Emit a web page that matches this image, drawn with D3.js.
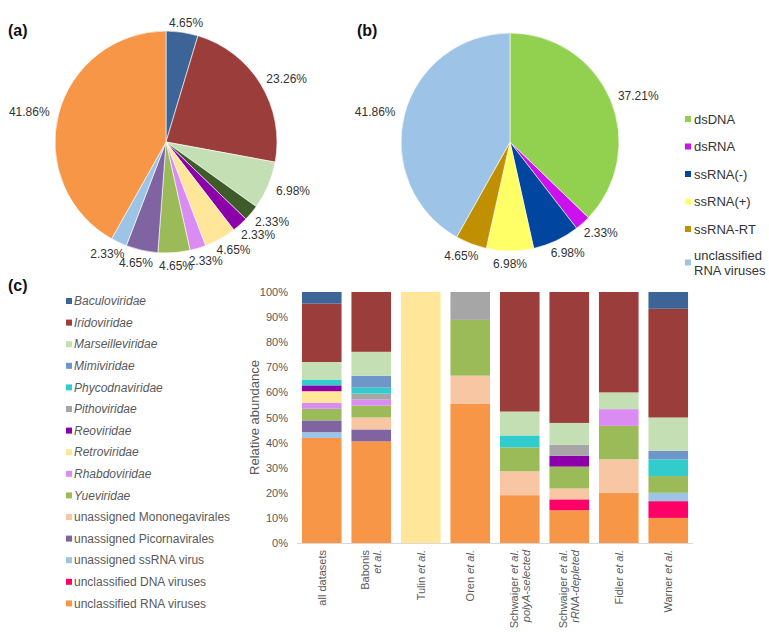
<!DOCTYPE html>
<html>
<head>
<meta charset="utf-8">
<script src="https://cdn.jsdelivr.net/npm/d3@7"></script>
<style>
  body { margin: 0; background: #fff; }
  text { font-family: "Liberation Sans", Arial, sans-serif; }
</style>
</head>
<body>
<div id="app"></div>
<script>
// (a) 科级分类饼图
const pieALabels = ["Baculoviridae", "Iridoviridae", "Marseilleviridae", "Phycodnaviridae", "Reoviridae",
  "Retroviridae", "Rhabdoviridae", "Yueviridae", "unassigned Picornavirales", "unassigned ssRNA virus",
  "unclassified RNA viruses"];
const pieAValues = [4.65, 23.26, 6.98, 2.33, 2.33, 4.65, 2.33, 4.65, 4.65, 2.33, 41.86];
const pieAColors = ["#3c6496", "#9b3d3b", "#c5dfb5", "#3d5c2a", "#8b00a8", "#ffe699", "#da8cf2",
  "#9bbb59", "#8064a2", "#9dc3e6", "#f79646"];

// (b) 基因组类型饼图
const pieBLabels = ["dsDNA", "dsRNA", "ssRNA(-)", "ssRNA(+)", "ssRNA-RT", "unclassified RNA viruses"];
const pieBValues = [37.21, 2.33, 6.98, 6.98, 4.65, 41.86];
const pieBColors = ["#92d050", "#cc11ee", "#0046a0", "#ffff66", "#c09000", "#9dc3e6"];

// (c) 堆叠柱状图
const datasets = ["all datasets", "Babonis et al.", "Tulin et al.", "Oren et al.",
  "Schwaiger et al. polyA-selected", "Schwaiger et al. rRNA-depleted", "Fidler et al.", "Warner et al."];
const families = ["Baculoviridae", "Iridoviridae", "Marseilleviridae", "Mimiviridae", "Phycodnaviridae",
  "Pithoviridae", "Reoviridae", "Retroviridae", "Rhabdoviridae", "Yueviridae",
  "unassigned Mononegavirales", "unassigned Picornavirales", "unassigned ssRNA virus",
  "unclassified DNA viruses", "unclassified RNA viruses"];
const familyColors = ["#3c6496", "#9b3d3b", "#c5dfb5", "#6f96c8", "#33cccc", "#a6a6a6", "#8b00a8",
  "#ffe699", "#da8cf2", "#9bbb59", "#f9c6a4", "#8064a2", "#9dc3e6", "#ff0066", "#f79646"];
const italicCount = 10; // 前 10 个是科名，斜体

// 每个数据集的相对丰度 (%)，顺序同 families
const allDatasets = [4.65, 23.26, 6.98, 0, 2.33, 0, 2.33, 4.65, 2.33, 4.65, 0, 4.65, 2.33, 0, 41.86];
const babonis     = [0, 23.81, 9.52, 4.76, 2.38, 2.38, 0, 0, 2.38, 4.76, 4.76, 4.76, 0, 0, 40.48];
const tulin       = [0, 0, 0, 0, 0, 0, 0, 100, 0, 0, 0, 0, 0, 0, 0];
const oren        = [0, 0, 0, 0, 0, 11.11, 0, 0, 0, 22.22, 11.11, 0, 0, 0, 55.56];
const schwaigerA  = [0, 47.62, 9.52, 0, 4.76, 0, 0, 0, 0, 9.52, 9.52, 0, 0, 0, 19.05];
const schwaigerR  = [0, 52.17, 8.7, 0, 0, 4.35, 4.35, 0, 0, 8.7, 4.35, 0, 0, 4.35, 13.04];
const fidler      = [0, 40, 6.67, 0, 0, 0, 0, 0, 6.67, 13.33, 13.33, 0, 0, 0, 20];
const warner      = [6.67, 43.33, 13.33, 3.33, 6.67, 0, 0, 0, 0, 6.67, 0, 0, 3.33, 6.67, 10];
const barValues = [allDatasets, babonis, tulin, oren, schwaigerA, schwaigerR, fidler, warner];

const yTicks = [0, 10, 20, 30, 40, 50, 60, 70, 80, 90, 100];

const width = 769, height = 632;
const textGray = "#595959";

const svg = d3.select("#app").append("svg")
  .attr("width", width)
  .attr("height", height);

// 面板标题
[["(a)", 8, 36], ["(b)", 357, 36], ["(c)", 8, 291]].forEach(([t, x, y]) => {
  svg.append("text").attr("x", x).attr("y", y).text(t)
    .style("font-size", "16px").style("font-weight", "bold").style("fill", "#111");
});

// 饼图绘制函数
function drawPie(cx, cy, r, values, colors) {
  const pie = d3.pie().sort(null).value(d => d);
  const arcs = pie(values);
  const arc = d3.arc().innerRadius(0).outerRadius(r);
  const labelArc = d3.arc().innerRadius(r + 10).outerRadius(r + 10);
  const g = svg.append("g").attr("transform", `translate(${cx},${cy})`);

  g.selectAll("path")
    .data(arcs)
    .enter().append("path")
    .attr("d", arc)
    .attr("fill", (d, i) => colors[i])
    .attr("stroke", "#fff")
    .attr("stroke-width", 0.6);

  g.selectAll("text")
    .data(arcs)
    .enter().append("text")
    .attr("text-anchor", "middle")
    .attr("dy", "0.35em")
    .style("font-size", "12px")
    .style("fill", "#333")
    .text(d => d.value.toFixed(2) + "%")
    .attr("x", function(d) {
      const c = labelArc.centroid(d);
      const a = (d.startAngle + d.endAngle) / 2;
      return c[0] + Math.sin(a) * this.getComputedTextLength() / 2;
    })
    .attr("y", d => {
      const a = (d.startAngle + d.endAngle) / 2;
      return labelArc.centroid(d)[1] + Math.max(0, -Math.cos(a)) * 3;
    });
}

drawPie(166, 142, 111, pieAValues, pieAColors);
drawPie(510, 142, 109, pieBValues, pieBColors);

// (b) 图例
const legB = svg.append("g").attr("transform", "translate(685,119)");
pieBLabels.forEach((name, i) => {
  const gy = i * 27.5 + (i === 5 ? 6 : 0);
  legB.append("rect").attr("x", 0).attr("y", gy - 3).attr("width", 6).attr("height", 6)
    .attr("fill", pieBColors[i]);
  const t = legB.append("text").attr("x", 9).attr("y", gy).attr("dy", "0.35em")
    .style("font-size", "13px").style("fill", "#333");
  if (i === 5) {
    t.attr("y", gy - 7.5);
    t.append("tspan").attr("x", 9).text("unclassified");
    t.append("tspan").attr("x", 9).attr("dy", "1.15em").text("RNA viruses");
  } else {
    t.text(name);
  }
});

// (c) 图例
const legC = svg.append("g").attr("transform", "translate(66,301)");
families.forEach((name, i) => {
  const gy = i * 21.6;
  legC.append("rect").attr("x", 0).attr("y", gy - 3).attr("width", 6).attr("height", 6)
    .attr("fill", familyColors[i]);
  legC.append("text").attr("x", 8).attr("y", gy).attr("dy", "0.35em")
    .style("font-size", "12px")
    .style("font-style", i < italicCount ? "italic" : "normal")
    .style("fill", textGray)
    .text(name);
});

// 柱状图坐标轴
const x = d3.scaleBand().domain(datasets).range([297, 693]).paddingInner(0.2).paddingOuter(0.1);
const y = d3.scaleLinear().domain([0, 100]).range([543, 292]);

// 堆叠数据
const rows = barValues.map((vals, i) => {
  const o = { dataset: datasets[i] };
  families.forEach((f, j) => { o[f] = vals[j]; });
  return o;
});
const stackOrder = families.slice().reverse(); // 最底层是 unclassified RNA viruses
const series = d3.stack().keys(stackOrder)(rows);
const color = d3.scaleOrdinal().domain(families).range(familyColors);

svg.append("g").selectAll("g")
  .data(series)
  .enter().append("g")
  .attr("fill", d => color(d.key))
  .selectAll("rect")
  .data(d => d.filter(p => p[1] - p[0] > 0))
  .enter().append("rect")
  .attr("x", d => x(d.data.dataset))
  .attr("width", x.bandwidth())
  .attr("y", d => y(d[1]))
  .attr("height", d => y(d[0]) - y(d[1]));

// y 轴刻度
const yAxis = svg.append("g").attr("transform", "translate(292,0)")
  .call(d3.axisLeft(y).tickValues(yTicks).tickFormat(d => d + "%").tickSize(0));
yAxis.select(".domain").remove();
yAxis.selectAll("text").style("font-size", "11px").style("fill", textGray)
  .style("font-family", "'Liberation Sans', Arial, sans-serif").attr("x", -4);

// x 基线
svg.append("line")
  .attr("x1", 297).attr("x2", 693)
  .attr("y1", y(0) + 0.5).attr("y2", y(0) + 0.5)
  .attr("stroke", "#d9d9d9").attr("stroke-width", 1);

// x 轴标签（竖排）
const xLabelParts = [
  [["all datasets", false]],
  [["Babonis", false], ["et al.", true]],
  [["Tulin ", false, "et al.", true]],
  [["Oren ", false, "et al.", true]],
  [["Schwaiger ", false, "et al.", true], ["polyA-selected", true]],
  [["Schwaiger ", false, "et al.", true], ["rRNA-depleted", true]],
  [["Fidler ", false, "et al.", true]],
  [["Warner ", false, "et al.", true]]
];
datasets.forEach((ds, i) => {
  const lines = xLabelParts[i];
  const cx = x(ds) + x.bandwidth() / 2;
  lines.forEach((parts, li) => {
    const off = (li - (lines.length - 1) / 2) * 12;
    const t = svg.append("text")
      .attr("transform", `translate(${cx + off},${y(0) + 7}) rotate(-90)`)
      .attr("text-anchor", "end")
      .attr("dy", "0.35em")
      .style("font-size", "11px")
      .style("fill", textGray);
    for (let k = 0; k < parts.length; k += 2) {
      t.append("tspan").style("font-style", parts[k + 1] ? "italic" : "normal").text(parts[k]);
    }
  });
});

// y 轴标题
svg.append("text")
  .attr("transform", `translate(254,${(y(0) + y(100)) / 2}) rotate(-90)`)
  .attr("text-anchor", "middle")
  .attr("dy", "0.35em")
  .style("font-size", "13px")
  .style("fill", textGray)
  .text("Relative abundance");
</script>
</body>
</html>
